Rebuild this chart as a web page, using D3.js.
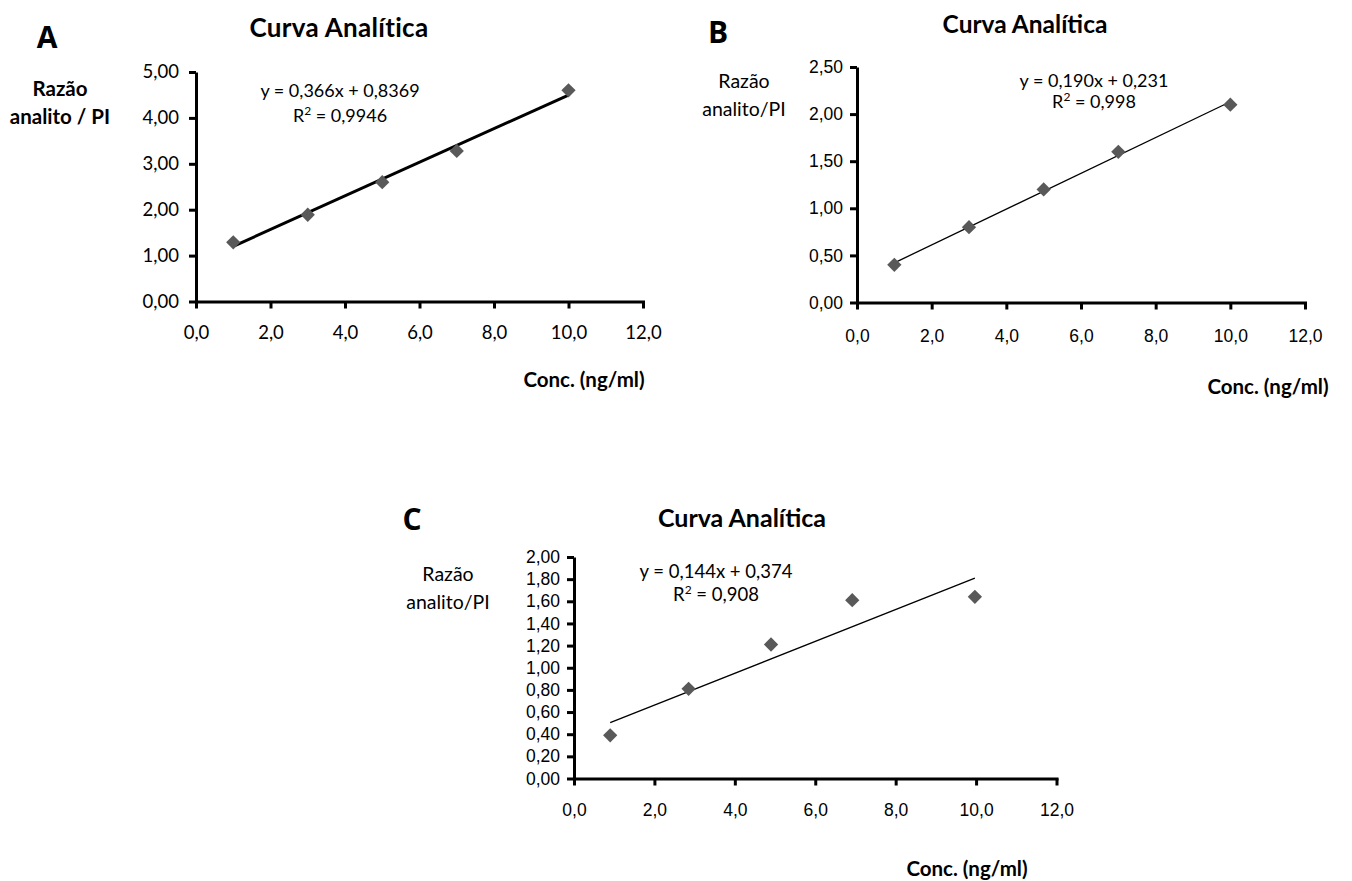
<!DOCTYPE html>
<html>
<head>
<meta charset="utf-8">
<script src="https://cdn.jsdelivr.net/npm/d3@7"></script>
<style>
  body { margin: 0; background: #fff; }
  svg text { fill: #000; }
</style>
</head>
<body>
<div id="chart"></div>
<script>
// data
var concA = [1, 3, 5, 7, 10];
var ratioA = [1.29, 1.89, 2.60, 3.28, 4.60];
var concB = [1, 3, 5, 7, 10];
var ratioB = [0.40, 0.80, 1.20, 1.60, 2.10];
var concC = [0.9, 2.85, 4.9, 6.92, 9.97];
var ratioC = [0.39, 0.81, 1.21, 1.61, 1.64];

// trend lines (slope, intercept) and labels
var fitA = [0.366, 0.8369];
var fitB = [0.190, 0.231];
var fitC = [0.144, 0.374];
var eqA = ["y = 0,366x + 0,8369", "0,9946"];
var eqB = ["y = 0,190x + 0,231", "0,998"];
var eqC = ["y = 0,144x + 0,374", "0,908"];

var xTicks = [0, 2, 4, 6, 8, 10, 12];
var yTicksA = [0, 1, 2, 3, 4, 5];
var yTicksB = [0, 0.5, 1, 1.5, 2, 2.5];
var yTicksC = [0, 0.2, 0.4, 0.6, 0.8, 1, 1.2, 1.4, 1.6, 1.8, 2];

var calibri = "Lato, 'Open Sans', sans-serif";
var arial = "'Liberation Sans', Arial, sans-serif";

var ptBR = d3.formatLocale({ decimal: ",", thousands: ".", grouping: [3], currency: ["", ""] });
var fmt2 = ptBR.format(".2f");
var fmt1 = ptBR.format(".1f");

var svg = d3.select("#chart").append("svg")
    .attr("width", 1352)
    .attr("height", 881);

function drawPanel(p) {
    var x = d3.scaleLinear().domain([0, 12]).range([p.left, p.right]);
    var y = d3.scaleLinear().domain([0, p.yMax]).range([p.bottom, p.top]);
    var g = svg.append("g");

    // axes
    var xAxis = g.append("g")
        .attr("transform", "translate(0," + p.bottom + ")")
        .call(d3.axisBottom(x).tickValues(xTicks).tickFormat(fmt1).tickSize(7).tickSizeOuter(0).tickPadding(p.xPad));
    var yAxis = g.append("g")
        .attr("transform", "translate(" + p.left + ",0)")
        .call(d3.axisLeft(y).tickValues(p.yTicks).tickFormat(fmt2).tickSize(7).tickSizeOuter(0).tickPadding(p.yPad));
    [xAxis, yAxis].forEach(function(a) {
        a.attr("font-family", null).attr("font-size", null);
        a.selectAll("path, line").attr("stroke", "#000").attr("stroke-width", 3);
        a.selectAll("text").style("font-family", p.tickFont).style("font-size", p.tickSize + "px").attr("fill", "#000");
    });
    xAxis.select(".domain").attr("stroke-linecap", "square");

    // trend line
    var xs = d3.extent(p.conc);
    g.append("line")
        .attr("x1", x(xs[0])).attr("y1", y(p.fit[0] * xs[0] + p.fit[1]))
        .attr("x2", x(xs[1])).attr("y2", y(p.fit[0] * xs[1] + p.fit[1]))
        .attr("stroke", "#000").attr("stroke-width", p.lineW);

    // points
    g.selectAll(".pt").data(p.conc).enter().append("path")
        .attr("class", "pt")
        .attr("d", d3.symbol().type(d3.symbolDiamond2).size(130))
        .attr("transform", function(d, i) { return "translate(" + x(d) + "," + y(p.ratio[i]) + ")"; })
        .attr("fill", "#595959");

    // panel letter and title
    g.append("text").attr("x", p.letter[0]).attr("y", p.letter[1])
        .attr("text-anchor", "middle").style("font-family", "'Open Sans', sans-serif")
        .style("font-weight", "bold").style("font-size", "30px").text(p.name);
    g.append("text").attr("x", p.title[0]).attr("y", p.title[1])
        .attr("text-anchor", "middle").style("font-family", calibri)
        .style("font-weight", "bold").style("font-size", p.titleSize + "px")
        .attr("letter-spacing", p.titleSpacing).text("Curva Analítica");

    // y label
    var yl = g.append("text").attr("text-anchor", "middle")
        .style("font-family", calibri).style("font-size", p.yLabSize + "px")
        .style("font-weight", p.yLabBold ? "bold" : "normal");
    yl.append("tspan").attr("x", p.yLab[0]).attr("y", p.yLab[1]).text("Razão");
    yl.append("tspan").attr("x", p.yLab[0]).attr("y", p.yLab[1] + 28).text(p.yLabText);

    // x label
    g.append("text").attr("x", p.xLab[0]).attr("y", p.xLab[1])
        .attr("text-anchor", "middle").style("font-family", calibri)
        .style("font-weight", "bold").style("font-size", "20.5px").text("Conc. (ng/ml)");

    // equation
    g.append("text").attr("x", p.eqPos[0]).attr("y", p.eqPos[1])
        .attr("text-anchor", "middle").style("font-family", calibri)
        .style("font-size", p.eqSize + "px").text(p.eq[0]);
    var r2 = g.append("text").attr("x", p.eqPos[0]).attr("y", p.eqPos[1] + p.eqGap)
        .attr("text-anchor", "middle").style("font-family", calibri).style("font-size", p.eqSize + "px");
    r2.append("tspan").text("R");
    r2.append("tspan").attr("dy", -7).style("font-size", "12px").text("2");
    r2.append("tspan").attr("dy", 7).text(" = " + p.eq[1]);
}

drawPanel({
    name: "A", conc: concA, ratio: ratioA, fit: fitA, eq: eqA, yTicks: yTicksA, yMax: 5,
    left: 196, right: 643, top: 72, bottom: 301.5,
    tickFont: calibri, tickSize: 18.5, xPad: 17, yPad: 10, lineW: 3,
    letter: [47, 48], title: [339, 37], titleSize: 26, titleSpacing: 0.3,
    yLab: [60, 96], yLabText: "analito / PI", yLabSize: 20.5, yLabBold: true,
    xLab: [584, 387], eqPos: [340, 97], eqGap: 25, eqSize: 18
});

drawPanel({
    name: "B", conc: concB, ratio: ratioB, fit: fitB, eq: eqB, yTicks: yTicksB, yMax: 2.5,
    left: 857, right: 1305, top: 67, bottom: 302.5,
    tickFont: arial, tickSize: 17.5, xPad: 20, yPad: 7, lineW: 1.3,
    letter: [718, 43], title: [1025, 33], titleSize: 24.5, titleSpacing: 0,
    yLab: [744, 88], yLabText: "analito/PI", yLabSize: 19.5, yLabBold: false,
    xLab: [1268, 394], eqPos: [1094, 87], eqGap: 21, eqSize: 18
});

drawPanel({
    name: "C", conc: concC, ratio: ratioC, fit: fitC, eq: eqC, yTicks: yTicksC, yMax: 2,
    left: 574, right: 1056.5, top: 557, bottom: 778.5,
    tickFont: arial, tickSize: 17.5, xPad: 18, yPad: 7, lineW: 1.3,
    letter: [412, 530], title: [742, 527], titleSize: 25, titleSpacing: 0,
    yLab: [448, 581], yLabText: "analito/PI", yLabSize: 19.5, yLabBold: false,
    xLab: [967, 876], eqPos: [716, 578], eqGap: 23, eqSize: 18.5
});
</script>
</body>
</html>
